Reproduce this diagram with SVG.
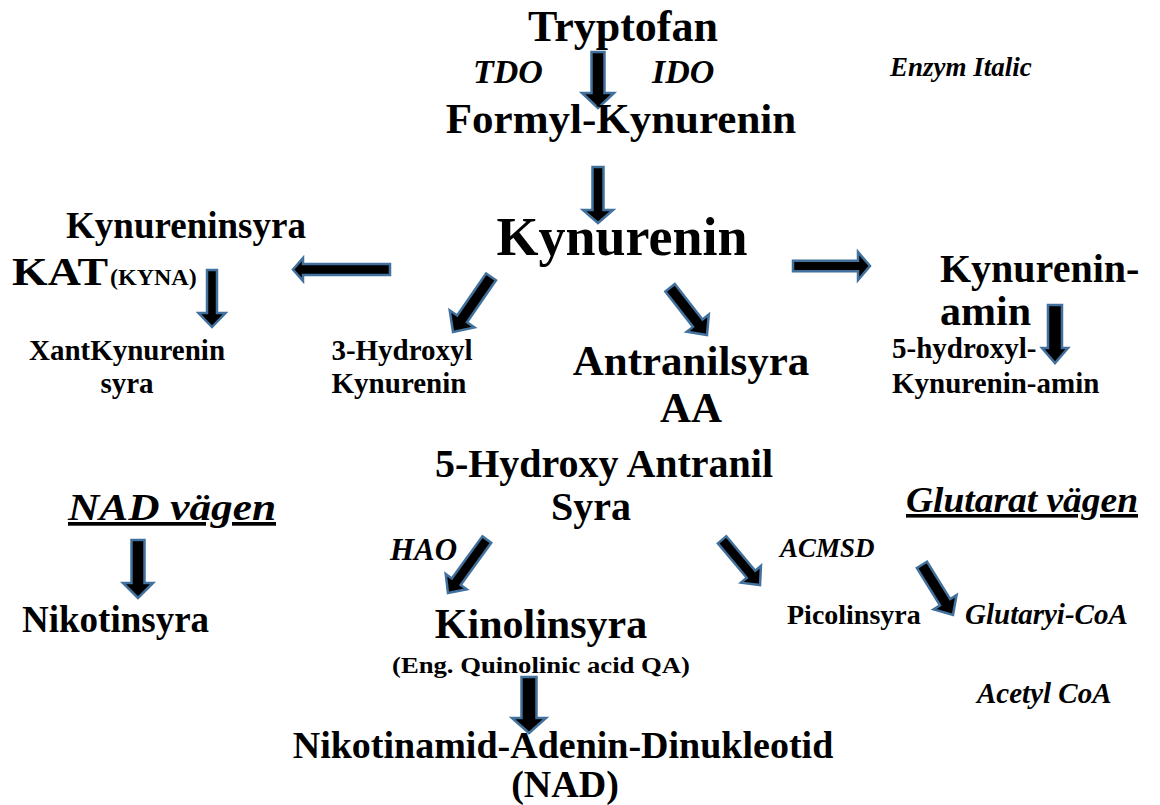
<svg xmlns="http://www.w3.org/2000/svg" width="1160" height="805" viewBox="0 0 1160 805">
<style>
  text { font-family: "Liberation Serif", "Times New Roman", serif; font-weight: bold; fill: #000; }
  .i { font-style: italic; }
  .u { text-decoration: underline; }
  .m { text-anchor: middle; }
  .arr { fill: #000; stroke: #41719c; stroke-width: 2.5; stroke-linejoin: miter; }
</style>
<rect width="1160" height="805" fill="#fff"/>

<g id="connectors">
  <polygon class="arr" transform="translate(598,108)" points="-6.5,-56 6.5,-56 6.5,-15 16,-15 0,0 -16,-15 -6.5,-15"/>
  <polygon class="arr" transform="translate(598,223)" points="-5.5,-56 5.5,-56 5.5,-13 15,-13 0,0 -15,-13 -5.5,-13"/>
  <polygon class="arr" transform="translate(293,269.5) rotate(90)" points="-5.5,-97 5.5,-97 5.5,-10 11.5,-10 0,0 -11.5,-10 -5.5,-10"/>
  <polygon class="arr" transform="translate(870,266) rotate(-90)" points="-5.3,-77 5.3,-77 5.3,-12 14,-12 0,0 -14,-12 -5.3,-12"/>
  <polygon class="arr" transform="translate(453,332) rotate(34.6)" points="-6,-67 6,-67 6,-16 15,-16 0,0 -15,-16 -6,-16"/>
  <polygon class="arr" transform="translate(707,335) rotate(-38)" points="-6,-60 6,-60 6,-15 14,-15 0,0 -14,-15 -6,-15"/>
  <polygon class="arr" transform="translate(1055,363)" points="-7,-58 7,-58 7,-15 13,-15 0,0 -13,-15 -7,-15"/>
  <polygon class="arr" transform="translate(212,327)" points="-5,-57 5,-57 5,-14 13.5,-14 0,0 -13.5,-14 -5,-14"/>
  <polygon class="arr" transform="translate(138,598)" points="-6.5,-58 6.5,-58 6.5,-15 15,-15 0,0 -15,-15 -6.5,-15"/>
  <polygon class="arr" transform="translate(448,593) rotate(36)" points="-5.5,-66 5.5,-66 5.5,-14 13,-14 0,0 -13,-14 -5.5,-14"/>
  <polygon class="arr" transform="translate(760,585) rotate(-40)" points="-5.5,-59 5.5,-59 5.5,-14 13,-14 0,0 -13,-14 -5.5,-14"/>
  <polygon class="arr" transform="translate(953,615) rotate(-31.8)" points="-6,-59 6,-59 6,-15 13.5,-15 0,0 -13.5,-15 -6,-15"/>
  <polygon class="arr" transform="translate(529,733)" points="-7.5,-56 7.5,-56 7.5,-15 17,-15 0,0 -17,-15 -7.5,-15"/>
</g>

<g id="tryptofan"><text class="m" x="623" y="41" font-size="44">Tryptofan</text></g>
<g id="tdo"><text class="i" x="473" y="83" font-size="34">TDO</text></g>
<g id="ido"><text class="i" x="652" y="83" font-size="34">IDO</text></g>
<g id="enzym"><text class="i" x="890" y="76" font-size="27">Enzym Italic</text></g>
<g id="formyl"><text class="m" x="621" y="133" font-size="43">Formyl-Kynurenin</text></g>
<g id="kynurenin"><text class="m" x="622" y="255" font-size="54">Kynurenin</text></g>
<g id="kynureninsyra">
  <text class="m" x="186" y="238" font-size="37">Kynureninsyra</text>
  <text x="12" y="285" font-size="40" textLength="96" lengthAdjust="spacingAndGlyphs">KAT</text>
  <text x="110" y="285" font-size="24">(KYNA)</text>
</g>
<g id="xant">
  <text class="m" x="127" y="360" font-size="29">XantKynurenin</text>
  <text class="m" x="127" y="393" font-size="29">syra</text>
</g>
<g id="hydroxyl">
  <text class="m" x="402" y="360" font-size="29">3-Hydroxyl</text>
  <text class="m" x="399" y="393" font-size="29">Kynurenin</text>
</g>
<g id="antranilsyra">
  <text class="m" x="691" y="375" font-size="43">Antranilsyra</text>
  <text class="m" x="691" y="422" font-size="43">AA</text>
</g>
<g id="kynureninamin">
  <text x="940" y="282" font-size="40">Kynurenin-</text>
  <text x="940" y="325" font-size="42">amin</text>
</g>
<g id="hydroxylamin">
  <text x="892" y="358" font-size="29">5-hydroxyl-</text>
  <text x="892" y="393" font-size="29">Kynurenin-amin</text>
</g>
<g id="hydroxyantranil">
  <text class="m" x="604" y="477" font-size="40">5-Hydroxy Antranil</text>
  <text class="m" x="591" y="520" font-size="40">Syra</text>
</g>
<g id="nadvagen"><text class="i u" x="68" y="520" font-size="37" textLength="208" lengthAdjust="spacingAndGlyphs">NAD vägen</text></g>
<g id="nikotinsyra"><text x="22" y="632" font-size="37">Nikotinsyra</text></g>
<g id="hao"><text class="i" x="390" y="560" font-size="31">HAO</text></g>
<g id="kinolinsyra">
  <text class="m" x="541" y="638" font-size="42">Kinolinsyra</text>
  <text class="m" x="541" y="673" font-size="24" textLength="298" lengthAdjust="spacingAndGlyphs">(Eng. Quinolinic acid QA)</text>
</g>
<g id="nad">
  <text class="m" x="563" y="758" font-size="38">Nikotinamid-Adenin-Dinukleotid</text>
  <text class="m" x="565" y="797" font-size="38">(NAD)</text>
</g>
<g id="glutarat"><text class="i u" x="906" y="512" font-size="36" textLength="232" lengthAdjust="spacingAndGlyphs">Glutarat vägen</text></g>
<g id="acmsd"><text class="i" x="780" y="557" font-size="27">ACMSD</text></g>
<g id="picolinsyra"><text x="787" y="624" font-size="28">Picolinsyra</text></g>
<g id="glutaryi"><text class="i" x="965" y="624" font-size="29">Glutaryi-CoA</text></g>
<g id="acetyl"><text class="i" x="977" y="703" font-size="29">Acetyl CoA</text></g>
</svg>
